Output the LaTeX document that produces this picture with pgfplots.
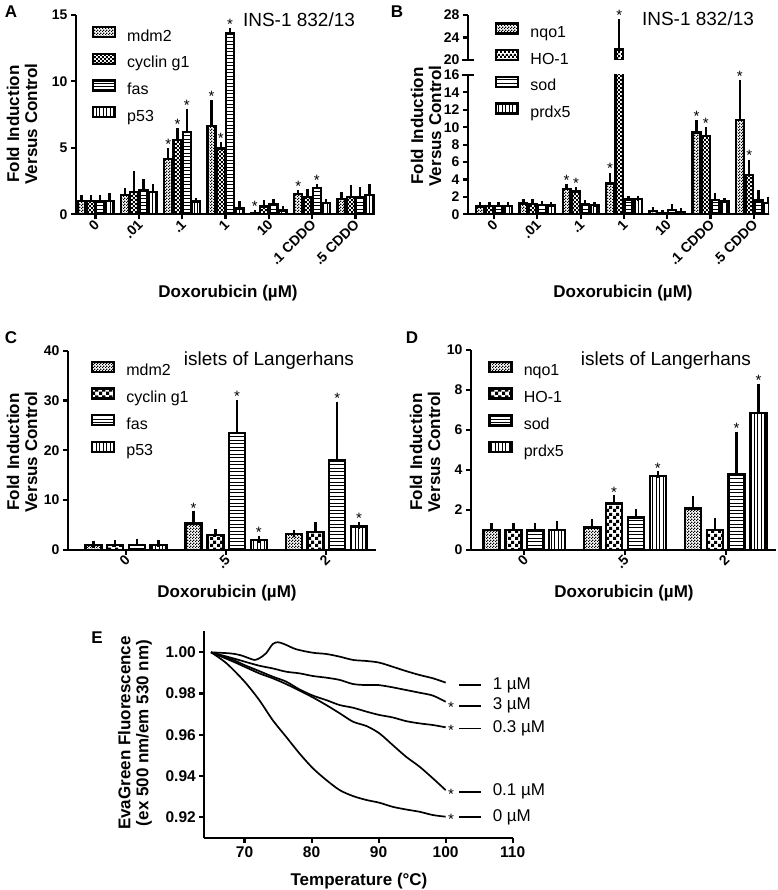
\documentclass[border=0pt]{standalone}
\usepackage{fontspec}
\setmainfont{Liberation Sans}
\usepackage{pgfplots}
\usepackage{pgfplotstable}
\pgfplotsset{compat=1.18}
\usetikzlibrary{patterns}

\pgfdeclarepatternformonly{fchk}{\pgfpointorigin}{\pgfpoint{3pt}{3pt}}{\pgfpoint{3pt}{3pt}}{%
 \pgfpathrectangle{\pgfpointorigin}{\pgfpoint{1.5pt}{1.5pt}}%
 \pgfpathrectangle{\pgfpoint{1.5pt}{1.5pt}}{\pgfpoint{1.5pt}{1.5pt}}%
 \pgfusepath{fill}}
\pgfdeclarepatternformonly{schk}{\pgfpointorigin}{\pgfpoint{4.4pt}{4.4pt}}{\pgfpoint{4.4pt}{4.4pt}}{%
 \pgfpathrectangle{\pgfpointorigin}{\pgfpoint{2.2pt}{2.2pt}}%
 \pgfpathrectangle{\pgfpoint{2.2pt}{2.2pt}}{\pgfpoint{2.2pt}{2.2pt}}%
 \pgfusepath{fill}}
\pgfdeclarepatternformonly{bchk}{\pgfpointorigin}{\pgfpoint{6.6pt}{6.6pt}}{\pgfpoint{6.6pt}{6.6pt}}{%
 \pgfpathrectangle{\pgfpointorigin}{\pgfpoint{3.3pt}{3.3pt}}%
 \pgfpathrectangle{\pgfpoint{3.3pt}{3.3pt}}{\pgfpoint{3.3pt}{3.3pt}}%
 \pgfusepath{fill}}
\pgfdeclarepatternformonly{hln}{\pgfpoint{-1pt}{-1pt}}{\pgfpoint{4.5pt}{4.5pt}}{\pgfpoint{3.5pt}{3.5pt}}{%
 \pgfsetlinewidth{0.9pt}%
 \pgfpathmoveto{\pgfpoint{-1pt}{1.75pt}}\pgfpathlineto{\pgfpoint{4.5pt}{1.75pt}}\pgfusepath{stroke}}
\pgfdeclarepatternformonly{vln}{\pgfpoint{-1pt}{-1pt}}{\pgfpoint{4.5pt}{4.5pt}}{\pgfpoint{3.5pt}{3.5pt}}{%
 \pgfsetlinewidth{0.9pt}%
 \pgfpathmoveto{\pgfpoint{1.75pt}{-1pt}}\pgfpathlineto{\pgfpoint{1.75pt}{4.5pt}}\pgfusepath{stroke}}

% value / error (error = top of error bar minus value)
\pgfplotstableread{
x m1 e1 m2 e2 m3 e3 m4 e4
0 1.00 0.25 1.00 0.25 1.00 0.25 1.00 0.45
1 1.45 0.35 1.70 1.35 1.85 0.60 1.70 0.40
2 4.15 0.65 5.60 0.70 6.20 1.55 0.95 0.10
3 6.65 1.75 4.95 0.30 13.65 0.15 0.45 0.35
4 0.08 0.03 0.60 0.30 0.75 0.20 0.30 0.15
5 1.55 0.10 1.30 0.45 2.00 0.10 0.85 0.10
6 1.15 0.35 1.30 0.75 1.30 0.55 1.45 0.65
}\tA
\pgfplotstableread{
x m1 e1 m2 e2 m3 e3 m4 e4
0 0.90 0.20 0.95 0.20 0.95 0.15 0.95 0.20
1 1.25 0.25 1.20 0.30 1.05 0.15 1.00 0.10
2 2.90 0.30 2.60 0.20 1.20 0.10 1.05 0.05
3 3.55 0.95 21.90 4.90 1.70 0.10 1.75 0.10
4 0.35 0.15 0.10 0.05 0.50 0.35 0.25 0.15
5 9.40 1.10 9.00 0.70 1.65 0.55 1.45 0.15
6 10.80 4.30 4.50 1.50 1.60 0.85 1.30 0.45
}\tB
\pgfplotstableread{
x m1 e1 m2 e2 m3 e3 m4 e4
0 1.00 0.20 1.00 0.30 1.00 0.60 1.00 0.30
1 5.30 1.80 3.00 0.50 23.50 6.00 2.00 0.20
2 3.25 0.10 3.60 1.30 18.00 11.10 4.70 0.30
}\tC
\pgfplotstableread{
x m1 e1 m2 e2 m3 e3 m4 e4
0 1.00 0.17 1.00 0.17 1.00 0.17 1.00 0.28
1 1.12 0.26 2.33 0.25 1.62 0.25 3.70 0.07
2 2.08 0.47 1.00 0.42 3.80 1.95 6.85 1.30
}\tD

\newcommand{\tickfont}{\bfseries\fontsize{14}{14}\selectfont}
\newcommand{\labfont}{\bfseries\fontsize{17}{18}\selectfont}

\pgfplotsset{
 panel/.style={scale only axis, anchor=north west, clip mode=individual, enlargelimits=false,
   axis x line=bottom, axis y line=left, axis line style={-, line width=2.3pt, black},
   every tick/.style={line width=2.1pt, black}, major tick length=5pt, tick align=outside,
   tick label style={font=\tickfont}, /pgf/number format/assume math mode=true,
   legend cell align=left,
   legend style={draw=none, fill=none, anchor=north west, inner sep=0pt, outer sep=0pt,
     row sep=8.5pt, font=\fontsize{16}{16}\selectfont,
     nodes={inner sep=0pt, text height=11pt, text depth=3pt}}},
 barpanel/.style={panel, xtick={0,...,6},
   xticklabel style={rotate=45, anchor=east, inner sep=1pt, yshift=-3pt}},
 legbox/.style={legend image code/.code={\draw[##1, line width=2.4pt] (0pt,0pt) rectangle (22pt,10pt); \path (33pt,0pt);}},
 bp/.style n args={2}{ybar, bar width=#1, bar shift=0pt, draw=black, line width=2.4pt, legbox,
   error bars/.cd, y dir=plus, y explicit,
   error bar style={line width=2.4pt, black},
   error mark options={line width=2.4pt, black, mark size=#2},
   /pgfplots/.cd},
 star/.style={draw=none, forget plot, nodes near coords={*},
   every node near coord/.style={anchor=south, inner sep=1pt, font=\fontsize{15}{15}\selectfont}},
}

\begin{document}
\begin{tikzpicture}
\path[use as bounding box] (0pt,0pt) rectangle (777pt,-890pt);

% ---------------- Panel A
\begin{axis}[barpanel, at={(76pt,-15pt)}, width=299pt, height=199.3pt,
  xmin=-0.45, xmax=6.45, ymin=0, ymax=15, ytick={0,5,10,15},
  xticklabels={0,.01,.1,1,10,.1 CDDO,.5 CDDO},
  legend style={at={(axis description cs:0.053,0.945)}}]
\addplot[pattern=fchk, bp={0.18}{2.5pt}] table[x expr=\thisrow{x}-0.3225,y=m1,y error=e1]{\tA};
\addlegendentry{mdm2}
\addplot[pattern=schk, bp={0.18}{2.5pt}] table[x expr=\thisrow{x}-0.1075,y=m2,y error=e2]{\tA};
\addlegendentry{cyclin g1}
\addplot[pattern=hln, bp={0.18}{2.5pt}] table[x expr=\thisrow{x}+0.1075,y=m3,y error=e3]{\tA};
\addlegendentry{fas}
\addplot[pattern=vln, bp={0.18}{2.5pt}] table[x expr=\thisrow{x}+0.3225,y=m4,y error=e4]{\tA};
\addlegendentry{p53}
\addplot[star] coordinates {(1.6775,4.8) (1.8925,6.3) (2.1075,7.75) (2.6775,8.4) (2.8925,5.25) (3.1075,13.8) (3.6775,0.11) (4.6775,1.65) (5.1075,2.1)};
\end{axis}

% ---------------- Panel B (broken axis)
\begin{axis}[barpanel, at={(468pt,-75pt)}, width=301pt, height=139.3pt,
  xmin=-0.6, xmax=6.35, ymin=0, ymax=16, ytick={0,2,...,16},
  extra y ticks={16}, extra y tick labels={},
  extra y tick style={tick align=center, major tick length=12pt},
  xticklabels={0,.01,.1,1,10,.1 CDDO,.5 CDDO},
  legend style={at={(axis description cs:0.09,1.378)}}]
\addplot[pattern=fchk, bp={0.18}{2.5pt}] table[x expr=\thisrow{x}-0.3225,y=m1,y error=e1]{\tB};
\addlegendentry{nqo1}
\addplot[pattern=schk, bp={0.18}{2.5pt}] table[x expr=\thisrow{x}-0.1075,y=m2,y error=e2]{\tB};
\addlegendentry{HO-1}
\addplot[pattern=hln, bp={0.18}{2.5pt}] table[x expr=\thisrow{x}+0.1075,y=m3,y error=e3]{\tB};
\addlegendentry{sod}
\addplot[pattern=vln, bp={0.18}{2.5pt}] table[x expr=\thisrow{x}+0.3225,y=m4,y error=e4]{\tB};
\addlegendentry{prdx5}
\addplot[star] coordinates {(1.6775,3.2) (1.8925,2.8) (2.6775,4.5) (4.6775,10.5) (4.8925,9.7) (5.6775,15.1) (5.8925,6.0)};
\end{axis}
\begin{axis}[panel, at={(468pt,-15pt)}, width=301pt, height=45pt,
  axis x line=none, xtick=\empty,
  xmin=-0.6, xmax=6.35, ymin=20, ymax=28, ytick={20,24,28},
  extra y ticks={20}, extra y tick labels={},
  extra y tick style={tick align=center, major tick length=12pt}]
\addplot[pattern=schk, bp={0.18}{2.5pt}, restrict x to domain=2.5:3.5] table[x expr=\thisrow{x}-0.1075,y=m2,y error=e2]{\tB};
\addplot[star] coordinates {(2.8925,26.8)};
\end{axis}

% ---------------- Panel C
\begin{axis}[barpanel, at={(68pt,-350.7pt)}, width=308.4pt, height=199.3pt,
  xmin=-0.58, xmax=2.5, ymin=0, ymax=40, ytick={0,10,...,40},
  xtick={0,1,2}, xticklabels={0,.5,2},
  legend style={at={(axis description cs:0.0746,0.95)}}]
\addplot[pattern=fchk, bp={0.16}{3.5pt}] table[x expr=\thisrow{x}-0.3255,y=m1,y error=e1]{\tC};
\addlegendentry{mdm2}
\addplot[pattern=bchk, bp={0.16}{3.5pt}] table[x expr=\thisrow{x}-0.1085,y=m2,y error=e2]{\tC};
\addlegendentry{cyclin g1}
\addplot[pattern=hln, bp={0.16}{3.5pt}] table[x expr=\thisrow{x}+0.1085,y=m3,y error=e3]{\tC};
\addlegendentry{fas}
\addplot[pattern=vln, bp={0.16}{3.5pt}] table[x expr=\thisrow{x}+0.3255,y=m4,y error=e4]{\tC};
\addlegendentry{p53}
\addplot[star] coordinates {(0.6745,7.1) (1.1085,29.5) (1.3255,2.2) (2.1085,29.1) (2.3255,5.0)};
\end{axis}

% ---------------- Panel D
\begin{axis}[barpanel, at={(471pt,-350pt)}, width=305pt, height=200pt,
  xmin=-0.53, xmax=2.5, ymin=0, ymax=10, ytick={0,2,...,10},
  xtick={0,1,2}, xticklabels={0,.5,2},
  legend style={at={(axis description cs:0.057,0.9465)}}]
\addplot[pattern=fchk, bp={0.16}{3.5pt}] table[x expr=\thisrow{x}-0.3255,y=m1,y error=e1]{\tD};
\addlegendentry{nqo1}
\addplot[pattern=bchk, bp={0.16}{3.5pt}] table[x expr=\thisrow{x}-0.1085,y=m2,y error=e2]{\tD};
\addlegendentry{HO-1}
\addplot[pattern=hln, bp={0.16}{3.5pt}] table[x expr=\thisrow{x}+0.1085,y=m3,y error=e3]{\tD};
\addlegendentry{sod}
\addplot[pattern=vln, bp={0.16}{3.5pt}] table[x expr=\thisrow{x}+0.3255,y=m4,y error=e4]{\tD};
\addlegendentry{prdx5}
\addplot[star] coordinates {(0.8915,2.58) (1.3255,3.77) (2.1085,5.75) (2.3255,8.15)};
\end{axis}

% ---------------- Panel E
\begin{axis}[panel, at={(204.3pt,-630.7pt)}, width=308.4pt, height=207pt,
  xmin=64, xmax=110, ymin=0.91, ymax=1.0105,
  xtick={70,80,90,100,110}, ytick={0.92,0.94,0.96,0.98,1.00},
  tick label style={font=\bfseries\fontsize{15.5}{15.5}\selectfont},
  yticklabel style={/pgf/number format/fixed, /pgf/number format/fixed zerofill, /pgf/number format/precision=2}]
% 1 uM
\addplot[line width=1.7pt, smooth] coordinates {(65,1.0) (67.8,0.9995) (69.3,0.9987) (70.7,0.9971) (71.5,0.9963) (72.2,0.9971) (73.2,0.9995) (74.2,1.0040) (75,1.0049) (76,1.0039) (77.7,1.0015) (80.2,0.9998) (82.2,0.9992) (84.2,0.9979) (86.2,0.9963) (88.2,0.9958) (90.1,0.9950) (92.1,0.9930) (94.1,0.9909) (96.1,0.9890) (98.1,0.9874) (100,0.9853)};
% 3 uM
\addplot[line width=1.7pt, smooth] coordinates {(65,1.0) (68.3,0.9971) (70,0.9955) (72.2,0.9935) (74.2,0.9922) (76.2,0.9906) (78.2,0.9898) (80.2,0.9885) (82.2,0.9877) (84.2,0.9866) (86.2,0.9846) (88.2,0.9841) (90,0.9841) (92.1,0.9830) (94.1,0.9817) (96.1,0.9804) (98.1,0.9790) (100,0.9760)};
% 0.3 uM
\addplot[line width=1.7pt, smooth] coordinates {(65,1.0) (68.3,0.9963) (70,0.9938) (72.2,0.9909) (74.2,0.9882) (76.2,0.9858) (78.2,0.9820) (80.2,0.9790) (82.2,0.9768) (84.2,0.9744) (86.2,0.9731) (88.2,0.9712) (90.1,0.9696) (92.1,0.9684) (94.1,0.9666) (96.1,0.9655) (98.1,0.9647) (100,0.9636)};
% 0.1 uM
\addplot[line width=1.7pt, smooth] coordinates {(65,1.0) (68.3,0.9955) (70,0.9930) (72.2,0.9898) (74.2,0.9874) (76.2,0.9846) (78.2,0.9814) (80.2,0.9781) (82.2,0.9744) (84.2,0.9704) (86.2,0.9663) (88.2,0.9642) (90.1,0.9607) (92.1,0.9550) (94.1,0.9493) (96.1,0.9445) (98.1,0.9388) (100,0.9331)};
% 0 uM
\addplot[line width=1.7pt, smooth] coordinates {(65,1.0) (67.3,0.9947) (70,0.9858) (72.2,0.9768) (74.2,0.9671) (76.2,0.9590) (78.2,0.9509) (80.2,0.9437) (82.2,0.9380) (84.2,0.9331) (86.2,0.9302) (88.2,0.9283) (90.1,0.9270) (92.1,0.9250) (94.1,0.9237) (96.1,0.9226) (98.1,0.9210) (100,0.9202)};
% key lines
\addplot[line width=1.9pt] coordinates {(102,0.9841) (105.3,0.9841)};
\addplot[line width=1.9pt] coordinates {(102,0.9741) (105.3,0.9741)};
\addplot[line width=1.9pt] coordinates {(102,0.9630) (105.3,0.9630)};
\addplot[line width=1.9pt] coordinates {(102,0.9323) (105.3,0.9323)};
\addplot[line width=1.9pt] coordinates {(102,0.9201) (105.3,0.9201)};
\addplot[draw=none, nodes near coords, point meta=explicit symbolic,
  every node near coord/.style={anchor=west, inner sep=0pt, font=\fontsize{17}{17}\selectfont}]
  coordinates {(107,0.9841) [1 µM] (107,0.9741) [3 µM] (107,0.9630) [0.3 µM] (107,0.9323) [0.1 µM] (107,0.9201) [0 µM]};
\addplot[draw=none, nodes near coords={*},
  every node near coord/.style={anchor=base, inner sep=0pt, yshift=-8pt, font=\fontsize{15}{15}\selectfont}]
  coordinates {(100.8,0.9749) (100.8,0.9636) (100.8,0.9323) (100.8,0.9202)};
\end{axis}

% ---------------- Texts
\node[font=\labfont] at (11pt,-12pt) {A};
\node[font=\labfont] at (397pt,-12pt) {B};
\node[font=\labfont] at (11pt,-338pt) {C};
\node[font=\labfont] at (412pt,-338pt) {D};
\node[font=\labfont] at (97pt,-638pt) {E};

\node[font=\fontsize{19}{19}\selectfont] at (299pt,-20pt) {INS-1 832/13};
\node[font=\fontsize{19}{19}\selectfont] at (698pt,-19pt) {INS-1 832/13};
\node[font=\fontsize{19}{19}\selectfont] at (269pt,-361pt) {islets of Langerhans};
\node[font=\fontsize{19}{19}\selectfont] at (666pt,-361pt) {islets of Langerhans};

\node[font=\labfont] at (228pt,-293pt) {Doxorubicin (µM)};
\node[font=\labfont] at (623pt,-293pt) {Doxorubicin (µM)};
\node[font=\labfont] at (227pt,-593pt) {Doxorubicin (µM)};
\node[font=\labfont] at (624pt,-593pt) {Doxorubicin (µM)};
\node[font=\labfont] at (359pt,-881pt) {Temperature (°C)};

\node[font=\labfont, rotate=90, align=center] at (22pt,-124pt) {Fold Induction\\Versus Control};
\node[font=\labfont, rotate=90, align=center] at (426pt,-126pt) {Fold Induction\\Versus Control};
\node[font=\labfont, rotate=90, align=center] at (22pt,-452pt) {Fold Induction\\Versus Control};
\node[font=\labfont, rotate=90, align=center] at (425pt,-452pt) {Fold Induction\\Versus Control};
\node[font=\labfont, rotate=90, align=center] at (135pt,-733pt) {EvaGreen Fluorescence\\(ex 500 nm/em 530 nm)};
\end{tikzpicture}
\end{document}
